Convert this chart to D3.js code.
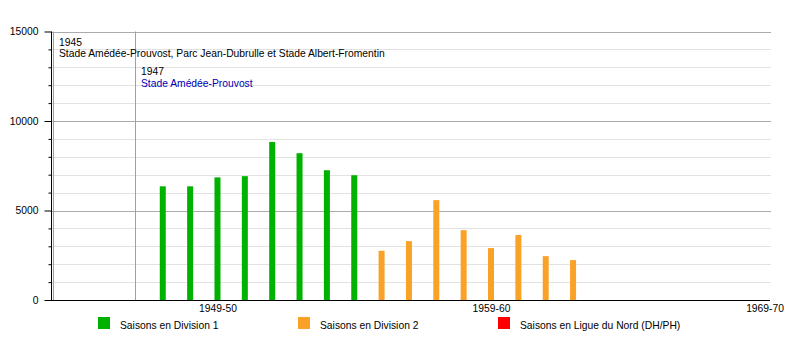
<!DOCTYPE html>
<html><head><meta charset="utf-8">
<script src="https://cdn.jsdelivr.net/npm/d3@7"></script>
<style>
html,body{margin:0;padding:0;background:#fff;}
svg text{font-family:"Liberation Sans",Arial,sans-serif;}
</style></head>
<body>
<svg id="c" width="800" height="350"></svg>
<script>
// Seasons (end year used as position on the time axis)
const div1Seasons = ["1947-48","1948-49","1949-50","1950-51","1951-52","1952-53","1953-54","1954-55"];
const div1Values  = [6350, 6350, 6850, 6920, 8830, 8200, 7250, 6970];
const div2Seasons = ["1955-56","1956-57","1957-58","1958-59","1959-60","1960-61","1961-62","1962-63"];
const div2Values  = [2750, 3290, 5580, 3900, 2900, 3630, 2450, 2230];
const xTickLabels = ["1949-50","1959-60","1969-70"];
const yTickValues = [0, 5000, 10000, 15000];
const eventYears  = ["1945","1947"];
const eventPos    = [1944, 1947];
const eventTexts  = ["Stade Amédée-Prouvost, Parc Jean-Dubrulle et Stade Albert-Fromentin","Stade Amédée-Prouvost"];
const legendLabels = ["Saisons en Division 1","Saisons en Division 2","Saisons en Ligue du Nord (DH/PH)"];
const legendColors = ["#00b200","#faa228","#ff0000"];

const endYear = s => +s.split("-")[0] + 1;

const svg = d3.select("#c");
const L = 52, R = 770, T = 31.5, B = 300;
const x = d3.scaleLinear().domain([1943.95, 1970.2]).range([L, R]);
const y = d3.scaleLinear().domain([0, 15000]).range([B, T]);

// minor grid
const minor = d3.range(1000, 15001, 1000).filter(v => v % 5000 !== 0);
svg.append("g").selectAll("line").data(minor).join("line")
  .attr("x1", L).attr("x2", R+1).attr("y1", d => Math.round(y(d))+0.5).attr("y2", d => Math.round(y(d))+0.5)
  .attr("stroke", "#e2e2e2").attr("stroke-width", 1);
// major grid
svg.append("g").selectAll("line").data([5000,10000,15000]).join("line")
  .attr("x1", L).attr("x2", R+1).attr("y1", d => Math.round(y(d))+0.5).attr("y2", d => Math.round(y(d))+0.5)
  .attr("stroke", "#ababab").attr("stroke-width", 1);

// event lines
svg.append("g").selectAll("line").data(eventPos).join("line")
  .attr("x1", d => Math.round(x(d))+0.5).attr("x2", d => Math.round(x(d))+0.5)
  .attr("y1", T).attr("y2", B)
  .attr("stroke", "#a0a0a0").attr("stroke-width", 1);

// y axis
const yAxis = d3.axisLeft(y).tickValues(d3.range(0, 15001, 1000))
  .tickSize(3).tickFormat(d => yTickValues.includes(d) ? d : "");
const ga = svg.append("g").attr("transform", `translate(${L-0.5},0)`).call(yAxis);
ga.select(".domain").attr("stroke", "#000").attr("d", `M0,${T}V${B}`);
ga.selectAll(".tick line").attr("stroke", "#000").attr("x2", d => yTickValues.includes(d) ? -7 : -3);
ga.selectAll(".tick text").attr("x", -13).attr("font-size", "10.3px").attr("fill", "#000")
  .attr("font-family", "Liberation Sans, Arial, sans-serif");

// bars
const bw = 6;
function bars(seasons, values, color) {
  svg.append("g").selectAll("rect").data(seasons).join("rect")
    .attr("x", d => x(endYear(d)) - bw/2)
    .attr("width", bw)
    .attr("y", (d,i) => y(values[i]))
    .attr("height", (d,i) => B - y(values[i]))
    .attr("fill", color);
}
bars(div1Seasons, div1Values, legendColors[0]);
bars(div2Seasons, div2Values, legendColors[1]);

// x axis
const xAxis = d3.axisBottom(x).tickValues(xTickLabels.map(endYear)).tickSize(0)
  .tickFormat((d,i) => xTickLabels[i]);
const gx = svg.append("g").attr("transform", `translate(0,${B+0.5})`).call(xAxis);
gx.select(".domain").attr("stroke", "#000").attr("d", `M${L-7},0H${R}`);
gx.selectAll(".tick text").attr("y", 4).attr("font-size", "10.3px").attr("fill", "#000")
  .attr("font-family", "Liberation Sans, Arial, sans-serif");

// event annotations
const ev = svg.append("g");
eventYears.forEach((yr, i) => {
  const xx = Math.round(x(eventPos[i])) + 6;
  const by = i === 0 ? 45.5 : 75;
  ev.append("text").attr("x", xx).attr("y", by).attr("font-size", "10.3px").attr("fill", "#000").text(yr);
  ev.append("text").attr("x", xx).attr("y", by + 11.5).attr("font-size", "10.3px")
    .attr("fill", i === 0 ? "#000" : "#0000b4").text(eventTexts[i]);
});

// legend
const legX = [98, 298, 498];
const lg = svg.append("g").selectAll("g").data(legendLabels).join("g")
  .attr("transform", (d,i) => `translate(${legX[i]},317)`);
lg.append("rect").attr("width", 12).attr("height", 12).attr("fill", (d,i) => legendColors[i]);
lg.append("text").attr("x", 22).attr("y", 11.5).attr("font-size", "10.3px").attr("fill", "#000").text(d => d);
</script>
</body></html>
